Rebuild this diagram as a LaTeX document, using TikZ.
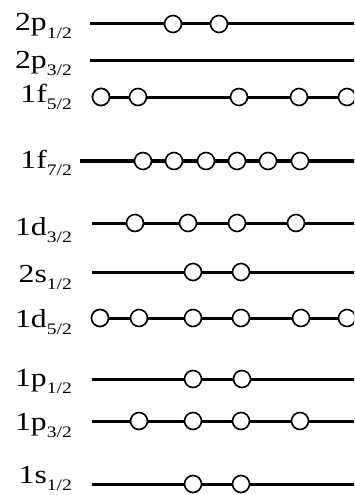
\documentclass[tikz,border=0pt]{standalone}
\usepackage{fontspec}
\setmainfont{Liberation Serif}
\usepackage{tikz}

\newcommand{\lvl}[2]{\scalebox{1.22}[1]{\fontsize{26}{26}\selectfont #1\raisebox{-7pt}{\fontsize{16}{16}\selectfont #2}}}

\begin{document}
\begin{tikzpicture}[x=1pt,y=-1pt,
    level/.style={line width=3pt},
    hole/.style={circle,draw,fill=white,line width=1.6pt,minimum size=17pt,inner sep=0pt},
    lname/.style={anchor=base east,inner sep=0pt}]
      \clip (0,0) rectangle (354,495);

      % 2p 1/2
      \node(p21)[lname] at (72,31) {\lvl{2p}{1/2}};
      \coordinate(p21s) at (90,24);
      \coordinate(p21e) at (356,24);
      \draw[level] (p21s) -- (p21e);
      \node(p21a)[hole] at (173,24) {};
      \node(p21b)[hole] at (219,24) {};

      % 2p 3/2
      \node(p23)[lname] at (72,68) {\lvl{2p}{3/2}};
      \coordinate(p23s) at (90,61);
      \coordinate(p23e) at (356,61);
      \draw[level] (p23s) -- (p23e);

      % 1f 5/2
      \node(f15)[lname] at (72,102) {\lvl{1f}{5/2}};
      \coordinate(f15e) at (356,97);
      \node(f15a)[hole] at (101,97) {};
      \draw[level] (f15a.center) -- (f15e);
      \node(f15a)[hole] at (101,97) {};
      \node(f15b)[hole] at (138,97) {};
      \node(f15c)[hole] at (239,97) {};
      \node(f15d)[hole] at (299,97) {};
      \node(f15f)[hole] at (347,97) {};

      % 1f 7/2
      \node(f17)[lname] at (72,168) {\lvl{1f}{7/2}};
      \coordinate(f17s) at (80,161);
      \coordinate(f17e) at (356,161);
      \draw[level,line width=3.5pt] (f17s) -- (f17e);
      \node(f17a)[hole] at (143,161) {};
      \node(f17b)[hole] at (174,161) {};
      \node(f17c)[hole] at (206,161) {};
      \node(f17d)[hole] at (237,161) {};
      \node(f17f)[hole] at (268,161) {};
      \node(f17g)[hole] at (300,161) {};

      % 1d 3/2
      \node(d13)[lname] at (72,235) {\lvl{1d}{3/2}};
      \coordinate(d13s) at (92,223);
      \coordinate(d13e) at (356,223);
      \draw[level] (d13s) -- (d13e);
      \node(d13a)[hole] at (135,223) {};
      \node(d13b)[hole] at (188,223) {};
      \node(d13c)[hole] at (237,223) {};
      \node(d13d)[hole] at (296,223) {};

      % 2s 1/2
      \node(s21)[lname] at (72,282) {\lvl{2s}{1/2}};
      \coordinate(s21s) at (92,272);
      \coordinate(s21e) at (356,272);
      \draw[level] (s21s) -- (s21e);
      \node(s21a)[hole] at (193,272) {};
      \node(s21b)[hole] at (241,272) {};

      % 1d 5/2
      \node(d15)[lname] at (72,327) {\lvl{1d}{5/2}};
      \coordinate(d15e) at (356,318);
      \node(d15a)[hole] at (100,318) {};
      \draw[level] (d15a.center) -- (d15e);
      \node(d15a)[hole] at (100,318) {};
      \node(d15b)[hole] at (139,318) {};
      \node(d15c)[hole] at (193,318) {};
      \node(d15d)[hole] at (241,318) {};
      \node(d15f)[hole] at (301,318) {};
      \node(d15g)[hole] at (347,318) {};

      % 1p 1/2
      \node(p11)[lname] at (72,386) {\lvl{1p}{1/2}};
      \coordinate(p11s) at (92,379);
      \coordinate(p11e) at (356,379);
      \draw[level] (p11s) -- (p11e);
      \node(p11a)[hole] at (193,379) {};
      \node(p11b)[hole] at (242,379) {};

      % 1p 3/2
      \node(p13)[lname] at (72,430) {\lvl{1p}{3/2}};
      \coordinate(p13s) at (92,421);
      \coordinate(p13e) at (356,421);
      \draw[level] (p13s) -- (p13e);
      \node(p13a)[hole] at (139,421) {};
      \node(p13b)[hole] at (193,421) {};
      \node(p13c)[hole] at (241,421) {};
      \node(p13d)[hole] at (300,421) {};

      % 1s 1/2
      \node(s11)[lname] at (72,483) {\lvl{1s}{1/2}};
      \coordinate(s11s) at (92,484);
      \coordinate(s11e) at (356,484);
      \draw[level] (s11s) -- (s11e);
      \node(s11a)[hole] at (193,484) {};
      \node(s11b)[hole] at (241,484) {};
\end{tikzpicture}
\end{document}
